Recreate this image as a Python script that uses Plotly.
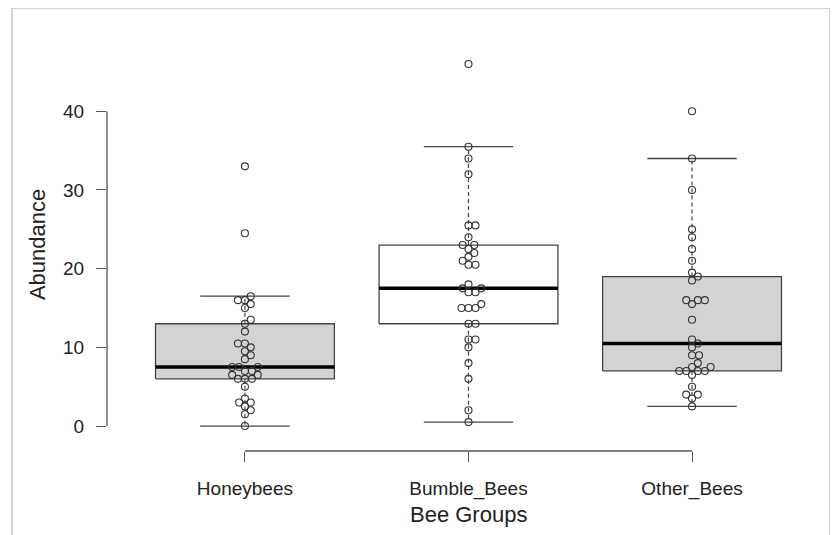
import numpy as np
import plotly.graph_objects as go

# ---------------- data ----------------
groups = ["Honeybees", "Bumble_Bees", "Other_Bees"]
honeybees = [33, 24.5, 16.5, 16, 16, 15.5, 15, 13.5, 13, 12, 10.5, 10.5, 10, 9.5, 9, 8.5,
             7.5, 7.5, 7.5, 7, 7, 6.5, 6.5, 6, 6, 6, 5, 3.5, 3, 3, 2.5, 2, 1.5, 0]
bumble_bees = [46, 35.5, 34, 32, 25.5, 25.5, 24, 23, 23, 22.5, 22, 21.5, 21, 20.5, 20.5,
               18, 17.5, 17.5, 17, 17, 15.5, 15, 15, 15, 13, 13, 11, 11, 10, 8, 6, 2, 0.5]
other_bees = [40, 34, 30, 25, 24, 22.5, 21, 19.5, 19, 18.5, 16, 16, 16, 15.5, 13.5, 11, 10.5, 10,
              9, 9, 8, 7.5, 7.5, 7, 7, 7, 7, 6.5, 5, 4, 4, 3.5, 2.5]
box_fills = ["#d3d3d3", "#ffffff", "#d3d3d3"]
y_ticks = [0, 10, 20, 30, 40]
x_title = "Bee Groups"
y_title = "Abundance"

series = [honeybees, bumble_bees, other_bees]

# ---------------- layout constants ----------------
W, H = 838, 535
OFF = 8                      # page body margin in the browser
PL, PT, PW, PH = 107, 20, 708, 431   # plot area in screen coordinates
ML, MT = PL - OFF, PT - OFF
MR = W - ML - PW
MB = H - MT - PH
XR = [0.383, 3.55]
YR = [-3.17, 51.6]
px_per_x = PW / (XR[1] - XR[0])
px_per_y = PH / (YR[1] - YR[0])
BOXHALF = 0.4
STAPLEHALF = 0.2
DOT = 7.0          # circle diameter in px
LINE = "#444444"


def fivenum(v):
    x = np.sort(np.asarray(v, float))
    n = len(x)
    n4 = np.floor((n + 3) / 2) / 2
    d = np.array([1, n4, (n + 1) / 2, n + 1 - n4, n])
    return 0.5 * (x[np.floor(d).astype(int) - 1] + x[np.ceil(d).astype(int) - 1])


def swarm(vals):
    """beeswarm 'swarm' layout (ascending priority), offsets in px"""
    vals = np.asarray(vals, float)
    order = np.argsort(vals, kind="stable")
    placed = []
    xs = np.zeros(len(vals))
    for i in order:
        y = vals[i] * px_per_y
        cands = [0.0]
        for (qx, qy) in placed:
            dy = abs(qy - y)
            if dy < DOT:
                dx = np.sqrt(DOT ** 2 - dy ** 2)
                cands += [qx + dx, qx - dx]
        cands.sort(key=lambda c: (round(abs(c), 6), -c))
        for c in cands:
            if all((c - qx) ** 2 + (y - qy) ** 2 >= DOT ** 2 - 1e-6 for qx, qy in placed):
                xs[i] = c
                break
        placed.append((xs[i], y))
    return xs


def xp(v):
    return (v - XR[0]) / (XR[1] - XR[0])


def yp(v):
    return (v - YR[0]) / (YR[1] - YR[0])


def sx(px):      # screen x -> paper
    return (px - PL) / PW


def sy(py):      # screen y -> paper
    return (PT + PH - py) / PH


fig = go.Figure()

for k, vals in enumerate(series):
    c = k + 1
    v = np.asarray(vals, float)
    _, q1, med, q3, _ = fivenum(v)
    iqr = q3 - q1
    up = v[v <= q3 + 1.5 * iqr].max()
    lo = v[v >= q1 - 1.5 * iqr].min()
    # box
    fig.add_trace(go.Scatter(
        x=[c - BOXHALF, c + BOXHALF, c + BOXHALF, c - BOXHALF, c - BOXHALF],
        y=[q1, q1, q3, q3, q1], mode="lines", fill="toself",
        fillcolor=box_fills[k], line=dict(color=LINE, width=1.3),
        hoverinfo="skip", showlegend=False))
    # whiskers (dashed)
    for a, b in [(q3, up), (q1, lo)]:
        fig.add_trace(go.Scatter(x=[c, c], y=[a, b], mode="lines",
                                 line=dict(color=LINE, width=1.2, dash="4px,3px"),
                                 hoverinfo="skip", showlegend=False))
    # staples
    for s in [up, lo]:
        fig.add_trace(go.Scatter(x=[c - STAPLEHALF, c + STAPLEHALF], y=[s, s], mode="lines",
                                 line=dict(color=LINE, width=1.3),
                                 hoverinfo="skip", showlegend=False))
    # median
    fig.add_trace(go.Scatter(x=[c - BOXHALF, c + BOXHALF], y=[med, med], mode="lines",
                             line=dict(color="#000000", width=3.5),
                             hoverinfo="skip", showlegend=False))

for k, vals in enumerate(series):
    c = k + 1
    offs = swarm(vals) / px_per_x
    fig.add_trace(go.Scatter(
        x=c + offs, y=vals, mode="markers",
        marker=dict(symbol="circle-open", size=DOT, color="#333333",
                    line=dict(width=1.1, color="#333333")),
        cliponaxis=False, showlegend=False, name=groups[k]))

shapes = [
    # y axis line 0..40
    dict(type="line", xref="paper", yref="paper", x0=0, x1=0,
         y0=yp(y_ticks[0]), y1=yp(y_ticks[-1]), line=dict(color="#555555", width=1.3)),
    # x axis line 1..3
    dict(type="line", xref="paper", yref="paper", x0=xp(1), x1=xp(len(groups)),
         y0=0, y1=0, line=dict(color="#555555", width=1.3)),
    # outer light frame
    dict(type="rect", xref="paper", yref="paper",
         x0=sx(12), x1=sx(830), y0=sy(560), y1=sy(8),
         line=dict(color="#c8c8c8", width=1.5), fillcolor="rgba(0,0,0,0)", layer="below"),
]

font_family = "Liberation Sans, Arial, Helvetica, sans-serif"

fig.update_layout(
    width=W, height=H,
    margin=dict(l=ML, r=MR, t=MT, b=MB),
    paper_bgcolor="white", plot_bgcolor="white",
    font=dict(family=font_family, color="#222222"),
    shapes=shapes,
    xaxis=dict(range=XR, tickmode="array", tickvals=[1, 2, 3], ticktext=groups,
               ticks="outside", ticklen=10, tickwidth=1.3, tickcolor="#555555",
               showline=False, showgrid=False, zeroline=False,
               tickfont=dict(size=19, color="#222222"), ticklabelstandoff=10),
    yaxis=dict(range=YR, tickmode="array", tickvals=y_ticks,
               ticks="outside", ticklen=10, tickwidth=1.3, tickcolor="#555555",
               showline=False, showgrid=False, zeroline=False,
               tickfont=dict(size=19, color="#222222"), ticklabelstandoff=8),
    annotations=[
        dict(text=x_title, xref="x", x=2, yref="paper", y=sy(514),
             xanchor="center", yanchor="middle", showarrow=False,
             font=dict(size=22, color="#222222")),
        dict(text=y_title, xref="paper", x=sx(37), yref="y", y=23,
             xanchor="center", yanchor="middle", textangle=-90, showarrow=False,
             font=dict(size=22, color="#222222")),
    ],
)

fig.write_html("out.html")
